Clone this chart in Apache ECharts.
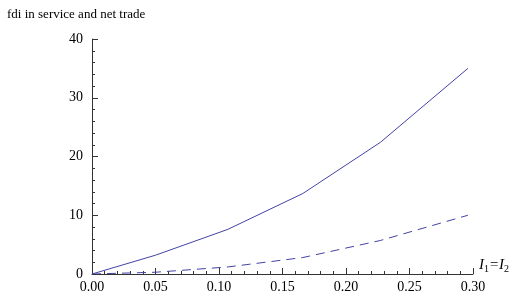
<!DOCTYPE html>
<html>
<head>
<meta charset="utf-8">
<script src="https://cdn.jsdelivr.net/npm/echarts@6/dist/echarts.min.js"></script>
<style>
  html, body { margin: 0; padding: 0; background: #fff; }
  #chart { width: 525px; height: 300px; }
</style>
</head>
<body>
<div id="chart"></div>
<script>
'use strict';

// I1 = I2 values where the curves were sampled
const xValues = [0, 0.05, 0.107, 0.166, 0.227, 0.296];
// fdi in service (solid) and net trade (dashed)
const fdiService = [0, 3.2, 7.6, 13.7, 22.4, 35.0];
const netTrade = [0, 0.3, 1.2, 2.8, 5.7, 10.0];

const FONT = '"Liberation Serif", "DejaVu Serif", serif';
const LINE = '#4343a3';
const AXIS = '#333';

const pairs = (xs, ys) => xs.map((x, i) => [x, ys[i]]);

const chart = echarts.init(document.getElementById('chart'), null, { renderer: 'canvas' });
chart.setOption({
  animation: false,
  backgroundColor: '#fff',
  title: {
    text: 'fdi in service and net trade',
    left: 2, top: 3,
    textStyle: { fontFamily: FONT, fontSize: 13, fontWeight: 'normal', color: '#000' },
  },
  grid: { left: 92, right: 52, top: 39, bottom: 26 },
  xAxis: {
    type: 'value', min: 0, max: 0.3, interval: 0.05,
    name: '{i|I}{s|1}{i|=I}{s|2}',
    nameLocation: 'end', nameGap: 6,
    nameTextStyle: {
      padding: [0, 0, 18, 0],
      rich: {
        i: { fontFamily: FONT, fontStyle: 'italic', fontSize: 15, color: '#000' },
        s: { fontFamily: FONT, fontSize: 10, color: '#000', padding: [8, 0, 0, 0] },
      },
    },
    axisLine: { lineStyle: { color: AXIS, width: 1 } },
    axisTick: { inside: true, length: 6, lineStyle: { color: AXIS } },
    minorTick: { show: true, splitNumber: 5, length: 3, lineStyle: { color: AXIS } },
    splitLine: { show: false },
    axisLabel: {
      fontFamily: FONT, fontSize: 14, color: '#000', margin: 6,
      formatter: (v) => v.toFixed(2),
    },
  },
  yAxis: {
    type: 'value', min: 0, max: 40, interval: 10,
    axisLine: { show: true, lineStyle: { color: AXIS, width: 1 } },
    axisTick: { show: true, inside: true, length: 6, lineStyle: { color: AXIS } },
    minorTick: { show: true, splitNumber: 5, length: 3, lineStyle: { color: AXIS } },
    splitLine: { show: false },
    axisLabel: { fontFamily: FONT, fontSize: 14, color: '#000', margin: 9 },
  },
  series: [
    {
      type: 'line', data: pairs(xValues, fdiService), symbol: 'none',
      lineStyle: { color: LINE, width: 1 },
    },
    {
      type: 'line', data: pairs(xValues, netTrade), symbol: 'none',
      lineStyle: { color: LINE, width: 1, type: [9, 6] },
    },
  ],
});
</script>
</body>
</html>
